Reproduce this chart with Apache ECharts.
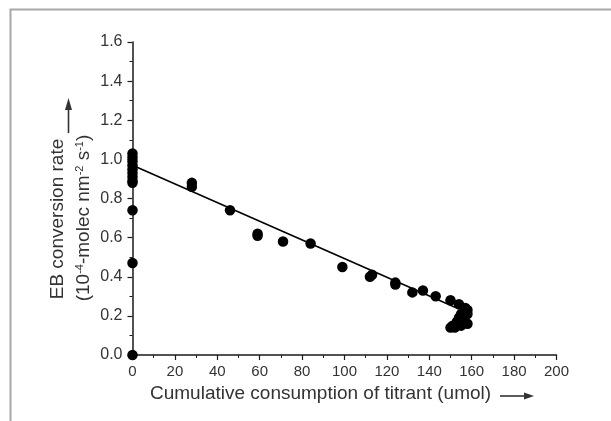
<!DOCTYPE html>
<html>
<head>
<meta charset="utf-8">
<script src="https://cdn.jsdelivr.net/npm/echarts@6/dist/echarts.min.js"></script>
<style>
  html, body { margin: 0; padding: 0; background: #fff; }
  #chart { width: 611px; height: 421px; }
</style>
</head>
<body>
<div id="chart"></div>
<script>
// Titrant consumption (umol) vs EB conversion rate.
const titrant = [
  0, 0, 0, 0, 0, 0, 0, 0, 0, 0, 0, 0,
  28, 28, 46, 59, 59, 71, 84, 99, 112, 113, 124, 124,
  132, 137, 143, 150, 154, 157, 158, 158, 155, 154, 153, 156,
  158, 151, 150, 152, 155
];
const rate = [
  1.03, 1.01, 0.99, 0.97, 0.95, 0.93, 0.91, 0.89, 0.88, 0.74, 0.47, 0.0,
  0.88, 0.86, 0.74, 0.62, 0.61, 0.58, 0.57, 0.45, 0.40, 0.41, 0.37, 0.36,
  0.32, 0.33, 0.30, 0.28, 0.26, 0.24, 0.23, 0.21, 0.21, 0.19, 0.17, 0.17,
  0.16, 0.15, 0.14, 0.14, 0.15
];
// linear fit, end points
const fitX = [0, 154];
const fitY = [0.97, 0.235];

const xTicks = { min: 0, max: 200, step: 20 };
const yTicks = { min: 0, max: 1.6, step: 0.2 };

const font = "'Liberation Sans', Arial, sans-serif";
const ink = "#1a1a1a";
const textInk = "#333";

const chart = echarts.init(document.getElementById("chart"), null, { renderer: "canvas" });

const axisCommon = {
  axisLine: { show: true, onZero: false, lineStyle: { color: ink, width: 1.5 } },
  axisTick: { show: true, inside: false, length: 5, lineStyle: { color: ink, width: 1.2 } },
  minorTick: { show: true, splitNumber: 2, length: 3, lineStyle: { color: ink, width: 1 } },
  splitLine: { show: false },
};

chart.setOption({
  animation: false,
  backgroundColor: "#fff",
  grid: { left: 132.5, right: 54.5, top: 42, bottom: 66 },
  xAxis: {
    type: "value",
    min: xTicks.min, max: xTicks.max, interval: xTicks.step,
    ...axisCommon,
    axisLabel: { color: textInk, fontFamily: font, fontSize: 15, margin: 9 },
  },
  yAxis: {
    type: "value",
    min: yTicks.min, max: yTicks.max, interval: yTicks.step,
    ...axisCommon,
    axisLabel: {
      color: textInk, fontFamily: font, fontSize: 16, margin: 10,
      formatter: (v) => v.toFixed(1),
    },
  },
  series: [
    {
      type: "scatter",
      data: titrant.map((x, i) => [x, rate[i]]),
      symbol: "circle",
      symbolSize: 10.5,
      itemStyle: { color: "#000", opacity: 1 },
      z: 3,
    },
    {
      type: "line",
      data: fitX.map((x, i) => [x, fitY[i]]),
      showSymbol: false,
      lineStyle: { color: "#000", width: 1.6 },
      z: 4,
    },
  ],
  graphic: [
    // picture frame
    {
      type: "rect", silent: true,
      shape: { x: 10.5, y: 9.5, width: 700, height: 500 },
      style: { fill: "none", stroke: "#a8a8a8", lineWidth: 2 },
    },
    // x-axis title + arrow
    {
      type: "text", left: 150, top: 384,
      style: { text: "Cumulative consumption of titrant (umol)", font: `19px ${font}`, fill: textInk },
    },
    {
      type: "line",
      shape: { x1: 500, y1: 396, x2: 526, y2: 396 },
      style: { stroke: textInk, lineWidth: 1.6 },
    },
    {
      type: "polygon",
      shape: { points: [[524, 392.5], [534, 396], [524, 399.5]] },
      style: { fill: textInk },
    },
    // y-axis title, two rotated lines + arrow
    {
      type: "text", x: 58, y: 219, rotation: Math.PI / 2,
      style: { text: "EB conversion rate", font: `19px ${font}`, fill: textInk, align: "center", verticalAlign: "middle" },
    },
    {
      type: "text", x: 84, y: 218, rotation: Math.PI / 2,
      style: {
        text: "(10{s|-4}-molec nm{s|-2} s{s|-1})",
        font: `19px ${font}`, fill: textInk, align: "center", verticalAlign: "middle",
        rich: {
          s: { font: `11px ${font}`, fill: textInk, verticalAlign: "top", padding: [0, 0, 8, 0] },
        },
      },
    },
    {
      type: "line",
      shape: { x1: 68.5, y1: 133, x2: 68.5, y2: 108 },
      style: { stroke: textInk, lineWidth: 1.6 },
    },
    {
      type: "polygon",
      shape: { points: [[65, 110], [68.5, 98], [72, 110]] },
      style: { fill: textInk },
    },
  ],
});
</script>
</body>
</html>
